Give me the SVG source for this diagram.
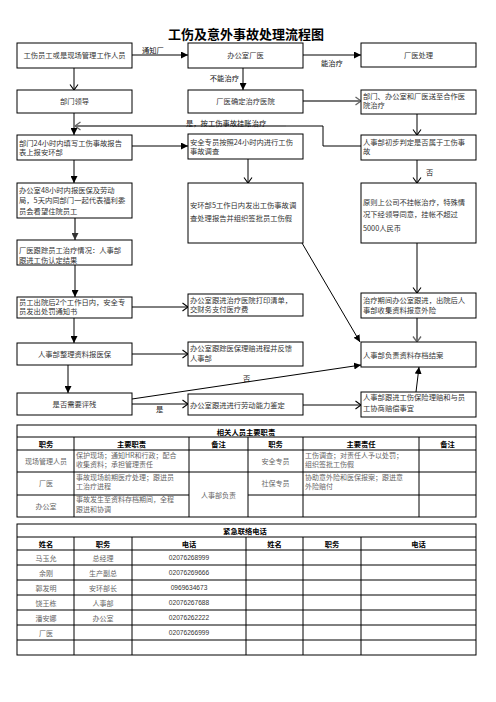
<svg xmlns="http://www.w3.org/2000/svg" width="496" height="702" viewBox="0 0 496 702">
<style>
.bg{fill:#fff}
.box{fill:#fff;stroke:#000;stroke-width:1}
.t{font-family:"Noto Sans CJK SC","Liberation Serif",sans-serif;font-size:7.3px;fill:#333}
.c{text-anchor:middle}
.lb{font-family:"Noto Sans CJK SC",sans-serif;font-size:7.3px;fill:#111}
.ln{stroke:#000;stroke-width:1;fill:none}
.gl{stroke:#777;stroke-width:2;fill:none}
.tl{stroke:#000;stroke-width:1;fill:none}
.tt{font-family:"Noto Sans CJK SC",sans-serif;font-size:7px;fill:#666}
.th{font-family:"Noto Sans CJK SC",sans-serif;font-size:7.3px;font-weight:bold;fill:#000}
.num{font-family:"Liberation Sans",Arial,sans-serif;font-size:6.6px;fill:#333;text-anchor:middle}
.title{font-family:"Noto Sans CJK SC",sans-serif;font-size:13px;font-weight:bold;fill:#000;text-anchor:middle}
</style>
<defs>
<marker id="fa" markerUnits="userSpaceOnUse" markerWidth="8" markerHeight="7" refX="7" refY="3.5" orient="auto"><path d="M0,0 L7,3.5 L0,7 z" fill="#000"/></marker>
<marker id="va" markerUnits="userSpaceOnUse" markerWidth="9" markerHeight="10" refX="7" refY="5" orient="auto"><path d="M1.5,1 L7,5 L1.5,9" fill="none" stroke="#000" stroke-width="1.1"/></marker>
<marker id="vg" markerUnits="userSpaceOnUse" markerWidth="9" markerHeight="10" refX="7" refY="5" orient="auto"><path d="M1.5,1 L7,5 L1.5,9" fill="none" stroke="#666" stroke-width="1.3"/></marker>
<marker id="fg" markerUnits="userSpaceOnUse" markerWidth="8" markerHeight="7" refX="7" refY="3.5" orient="auto"><path d="M0,0 L7,3.5 L0,7 z" fill="#333"/></marker>
</defs>
<rect class="bg" x="0" y="0" width="496" height="702"/>
<text class="title" x="246" y="38.5">工伤及意外事故处理流程图</text>

<g id="connectors">
<line class="ln" x1="132" y1="55" x2="188" y2="55" marker-end="url(#fa)"/>
<text class="lb" x="142" y="53">通知厂</text>
<line class="ln" x1="303" y1="55" x2="361" y2="55" marker-end="url(#fa)"/>
<text class="lb" x="321" y="66">能治疗</text>
<line class="ln" x1="74" y1="68" x2="74" y2="90" marker-end="url(#va)"/>
<line class="ln" x1="243" y1="68" x2="243" y2="90" marker-end="url(#fa)"/>
<text class="lb" x="239" y="81" text-anchor="end">不能治疗</text>
<line class="gl" x1="303" y1="101" x2="361" y2="101" marker-end="url(#vg)"/>
<line class="ln" x1="74" y1="113" x2="74" y2="135" marker-end="url(#fa)"/>
<polyline class="ln" points="361,146 323,146 323,126 286,126"/>
<line class="gl" x1="286" y1="126" x2="75" y2="126" marker-end="url(#vg)"/>
<text class="lb" x="186" y="126">是，按工伤事故挂账治疗</text>
<line class="ln" x1="132" y1="146" x2="188" y2="146" marker-end="url(#fa)"/>
<line class="ln" x1="417" y1="114" x2="417" y2="135" marker-end="url(#va)"/>
<line class="ln" x1="74" y1="160" x2="74" y2="183" marker-end="url(#fa)"/>
<line class="ln" x1="248" y1="159" x2="248" y2="183" marker-end="url(#va)"/>
<line class="ln" x1="417" y1="160" x2="417" y2="183" marker-end="url(#va)"/>
<text class="lb" x="426" y="175">否</text>
<line class="gl" x1="75" y1="218" x2="75" y2="240" marker-end="url(#fg)"/>
<line class="ln" x1="75" y1="265" x2="75" y2="297" marker-end="url(#fa)"/>
<line class="ln" x1="417" y1="243" x2="417" y2="293" marker-end="url(#va)"/>
<line class="ln" x1="302" y1="243" x2="360" y2="342" marker-end="url(#fa)"/>
<line class="ln" x1="132" y1="307" x2="188" y2="307" marker-end="url(#va)"/>
<line class="ln" x1="74" y1="318" x2="74" y2="343" marker-end="url(#fa)"/>
<line class="gl" x1="417" y1="318" x2="417" y2="342" stroke-width="1.3" marker-end="url(#vg)"/>
<line class="ln" x1="132" y1="354" x2="188" y2="354" marker-end="url(#va)"/>
<line class="ln" x1="68" y1="365" x2="68" y2="393" marker-end="url(#fa)"/>
<line class="ln" x1="132" y1="399" x2="361" y2="365" marker-end="url(#fa)"/>
<text class="lb" x="243" y="381">否</text>
<line class="ln" x1="132" y1="404" x2="188" y2="404" marker-end="url(#va)"/>
<text class="lb" x="156" y="412">是</text>
<line class="ln" x1="303" y1="405" x2="361" y2="405" marker-end="url(#va)"/>
<line class="ln" x1="416" y1="392" x2="419" y2="367" marker-end="url(#fa)"/>
</g>

<g id="n1"><rect class="box" x="17" y="43" width="115" height="25"/><text class="t c" x="74.5" y="58">工伤员工或是现场管理工作人员</text></g>
<g id="n2"><rect class="box" x="188" y="43" width="115" height="25"/><text class="t c" x="245.5" y="58">办公室厂医</text></g>
<g id="n3"><rect class="box" x="361" y="43" width="115" height="24"/><text class="t c" x="418.5" y="58">厂医处理</text></g>
<g id="n4"><rect class="box" x="17" y="90" width="115" height="23"/><text class="t c" x="74.5" y="104">部门领导</text></g>
<g id="n5"><rect class="box" x="188" y="90" width="115" height="23"/><text class="t c" x="245.5" y="104">厂医确定治疗医院</text></g>
<g id="n6"><rect class="box" x="361" y="90" width="115" height="24"/><text class="t" x="363" y="99">部门、办公室和厂医送至合作医</text><text class="t" x="363" y="108">院治疗</text></g>
<g id="n7"><rect class="box" x="17" y="135" width="115" height="25"/><text class="t" x="19" y="146">部门24小时内填写工伤事故报告</text><text class="t" x="19" y="155">表上报安环部</text></g>
<g id="n8"><rect class="box" x="188" y="134" width="115" height="25"/><text class="t" x="190" y="145">安全专员按照24小时内进行工伤</text><text class="t" x="190" y="154">事故调查</text></g>
<g id="n9"><rect class="box" x="361" y="135" width="115" height="25"/><text class="t" x="363" y="145">人事部初步判定是否属于工伤事</text><text class="t" x="363" y="154">故</text></g>
<g id="n10"><rect class="box" x="17" y="183" width="115" height="35"/><text class="t" x="19" y="193">办公室48小时内报医保及劳动</text><text class="t" x="19" y="203">局，5天内同部门一起代表福利委</text><text class="t" x="19" y="214">员会看望住院员工</text></g>
<g id="n11"><rect class="box" x="188" y="183" width="115" height="60"/><text class="t" x="190" y="208">安环部5工作日内发出工伤事故调</text><text class="t" x="190" y="221">查处理报告并组织签批员工伤假</text></g>
<g id="n12"><rect class="box" x="361" y="183" width="115" height="60"/><text class="t" x="363" y="204.5">原则上公司不挂帐治疗，特殊情</text><text class="t" x="363" y="217">况下经领导同意，挂帐不超过</text><text class="t" x="363" y="230.5">5000人民币</text></g>
<g id="n13"><rect class="box" x="17" y="240" width="115" height="25"/><text class="t" x="19" y="253">厂医跟踪员工治疗情况：人事部</text><text class="t" x="19" y="262.5">跟进工伤认定结果</text></g>
<g id="n14"><rect class="box" x="17" y="297" width="115" height="21"/><text class="t" x="19" y="305">员工出院后2个工作日内，安全专</text><text class="t" x="19" y="314">员发出处罚通知书</text></g>
<g id="n15"><rect class="box" x="188" y="294" width="115" height="22"/><text class="t" x="190" y="303">办公室跟进治疗医院打印清单，</text><text class="t" x="190" y="312">交财务支付医疗费</text></g>
<g id="n16"><rect class="box" x="361" y="293" width="115" height="25"/><text class="t" x="363" y="303">治疗期间办公室跟进，出院后人</text><text class="t" x="363" y="313">事部收集资料报意外险</text></g>
<g id="n17"><rect class="box" x="17" y="343" width="115" height="22"/><text class="t c" x="74.5" y="357">人事部整理资料报医保</text></g>
<g id="n18"><rect class="box" x="188" y="342" width="115" height="24"/><text class="t" x="190" y="351">办公室跟踪医保理赔进程并反馈</text><text class="t" x="190" y="361">人事部</text></g>
<g id="n19"><rect class="box" x="361" y="342" width="115" height="25"/><text class="t" x="363" y="358">人事部负责资料存档结案</text></g>
<g id="n20"><rect class="box" x="17" y="393" width="115" height="22"/><text class="t c" x="74.5" y="407">是否需要评残</text></g>
<g id="n21"><rect class="box" x="188" y="394" width="115" height="21"/><text class="t" x="190" y="408">办公室跟进进行劳动能力鉴定</text></g>
<g id="n22"><rect class="box" x="361" y="392" width="115" height="25"/><text class="t" x="363" y="400">人事部跟进工伤保险理赔和与员</text><text class="t" x="363" y="411">工协商赔偿事宜</text></g>

<g id="table-duties">
<rect class="tl" x="17" y="425" width="459" height="92"/>
<line class="tl" x1="17" y1="437" x2="476" y2="437"/>
<line class="tl" x1="17" y1="450" x2="476" y2="450"/>
<line class="tl" x1="17" y1="472" x2="476" y2="472"/>
<line class="tl" x1="17" y1="495" x2="189" y2="495"/>
<line class="tl" x1="248" y1="495" x2="476" y2="495"/>
<line class="tl" x1="74" y1="437" x2="74" y2="517"/>
<line class="tl" x1="189" y1="437" x2="189" y2="517"/>
<line class="tl" x1="248" y1="437" x2="248" y2="517"/>
<line class="tl" x1="303" y1="437" x2="303" y2="517"/>
<line class="tl" x1="419" y1="437" x2="419" y2="517"/>
<text class="th c" x="246" y="434.5">相关人员主要职责</text>
<text class="th c" x="46" y="447">职务</text>
<text class="th c" x="131.5" y="447">主要职责</text>
<text class="th c" x="218.5" y="447">备注</text>
<text class="th c" x="275.5" y="447">职务</text>
<text class="th c" x="361" y="447">主要责任</text>
<text class="th c" x="447.5" y="447">备注</text>
<text class="tt c" x="46" y="464">现场管理人员</text>
<text class="tt" x="76" y="458">保护现场；通知HR和行政；配合</text>
<text class="tt" x="76" y="467">收集资料；承担管理责任</text>
<text class="tt c" x="275.5" y="464">安全专员</text>
<text class="tt" x="305" y="458">工伤调查；对责任人予以处罚；</text>
<text class="tt" x="305" y="467">组织签批工伤假</text>
<text class="tt c" x="46" y="486">厂医</text>
<text class="tt" x="76" y="479.5">事故现场前期医疗处理；跟进员</text>
<text class="tt" x="76" y="489">工治疗进程</text>
<text class="tt c" x="275.5" y="486">社保专员</text>
<text class="tt" x="305" y="479.5">协助意外险和医保报案；跟进意</text>
<text class="tt" x="305" y="489">外险赔付</text>
<text class="tt c" x="218.5" y="497.5">人事部负责</text>
<text class="tt c" x="46" y="509">办公室</text>
<text class="tt" x="76" y="502">事故发生至资料存档期间，全程</text>
<text class="tt" x="76" y="511.5">跟进和协调</text>
</g>

<g id="table-contacts">
<rect class="tl" x="17" y="524" width="459" height="131"/>
<line class="tl" x1="17" y1="537" x2="476" y2="537"/>
<line class="tl" x1="17" y1="550" x2="476" y2="550"/>
<line class="tl" x1="17" y1="565" x2="476" y2="565"/>
<line class="tl" x1="17" y1="580" x2="476" y2="580"/>
<line class="tl" x1="17" y1="595" x2="476" y2="595"/>
<line class="tl" x1="17" y1="610" x2="476" y2="610"/>
<line class="tl" x1="17" y1="625" x2="476" y2="625"/>
<line class="tl" x1="17" y1="640" x2="476" y2="640"/>
<line class="tl" x1="74" y1="537" x2="74" y2="655"/>
<line class="tl" x1="132" y1="537" x2="132" y2="655"/>
<line class="tl" x1="246" y1="537" x2="246" y2="655"/>
<line class="tl" x1="303" y1="537" x2="303" y2="655"/>
<line class="tl" x1="361" y1="537" x2="361" y2="655"/>
<text class="th c" x="245" y="533.5">紧急联络电话</text>
<text class="th c" x="46" y="546.5">姓名</text>
<text class="th c" x="103" y="546.5">职务</text>
<text class="th c" x="189" y="546.5">电话</text>
<text class="th c" x="274.5" y="546.5">姓名</text>
<text class="th c" x="332" y="546.5">职务</text>
<text class="th c" x="418.5" y="546.5">电话</text>
<text class="tt c" x="46" y="560.5">马玉允</text><text class="tt c" x="103" y="560.5">总经理</text><text class="num" x="189" y="560">02076268999</text>
<text class="tt c" x="46" y="575.5">余刚</text><text class="tt c" x="103" y="575.5">生产副总</text><text class="num" x="189" y="575">02076269666</text>
<text class="tt c" x="46" y="590.5">郭发明</text><text class="tt c" x="103" y="590.5">安环部长</text><text class="num" x="189" y="590">0969634673</text>
<text class="tt c" x="46" y="605.5">饶王栋</text><text class="tt c" x="103" y="605.5">人事部</text><text class="num" x="189" y="605">02076267688</text>
<text class="tt c" x="46" y="620.5">潘安娜</text><text class="tt c" x="103" y="620.5">办公室</text><text class="num" x="189" y="620">02076262222</text>
<text class="tt c" x="46" y="635.5">厂医</text><text class="num" x="189" y="635">02076266999</text>
</g>
</svg>
